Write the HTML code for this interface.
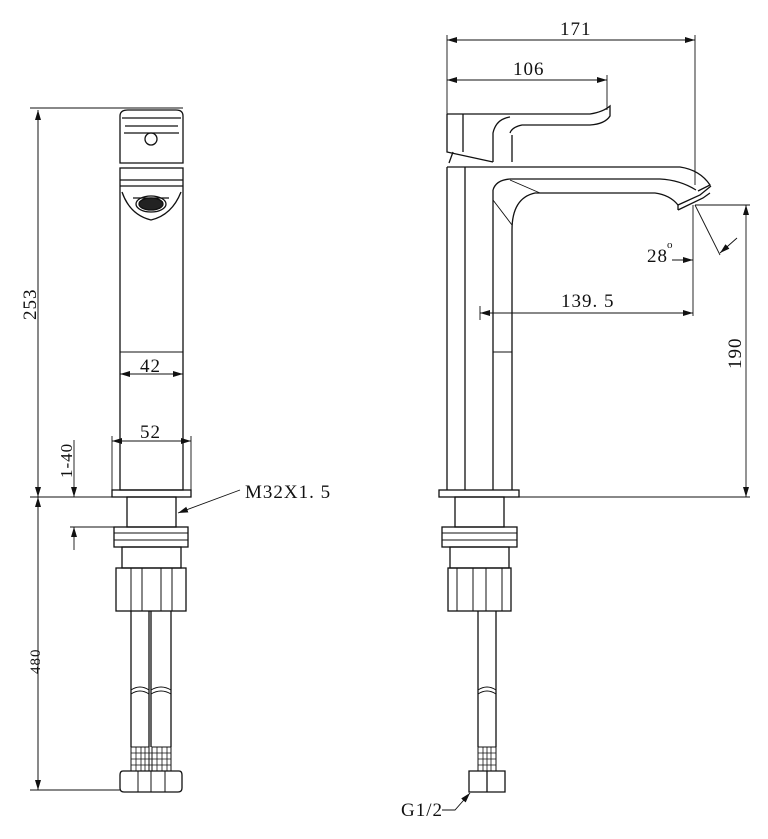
<!DOCTYPE html>
<html><head><meta charset="utf-8"><style>
html,body{margin:0;padding:0;background:#fff;}
svg{display:block;}
text{font-family:"Liberation Serif","DejaVu Serif",serif;fill:#111;letter-spacing:1px;}
</style></head><body>
<svg width="768" height="839" viewBox="0 0 768 839" xmlns="http://www.w3.org/2000/svg">
<defs>
<marker id="a" markerWidth="10" markerHeight="6" refX="10" refY="3" orient="auto" markerUnits="userSpaceOnUse"><path d="M0,0 L10,3 L0,6 z" fill="#111"/></marker>
</defs>
<g fill="none" stroke="#111" stroke-width="1.3">
<!-- LEFT VIEW -->
<path d="M120,163 L120,116 Q120,110 128,110 L176,110 Q183,110 183,116 L183,163 Z"/>
<path d="M122,118 L181,118 M125,126 L178,126 M124,133 L179,133"/>
<circle cx="151" cy="139" r="6"/>
<rect x="120" y="168" width="63" height="322"/>
<path d="M120,180 L183,180 M120,186 L183,186"/>
<path d="M122,192 Q130,215 151,220 Q172,215 181,192"/>
<path d="M133,198 L169,198"/>
<ellipse cx="151" cy="204" rx="15" ry="8"/>
<ellipse cx="151" cy="204" rx="12" ry="6" fill="#222"/>
<path d="M120,352 L183,352" stroke-width="1"/>
<rect x="112" y="490" width="79" height="7"/>
<rect x="127" y="497" width="49" height="30"/>
<rect x="114" y="527" width="74" height="20"/>
<path d="M114,533 L188,533 M114,540 L188,540" stroke-width="1"/>
<rect x="122" y="547" width="59" height="21"/>
<rect x="116" y="568" width="70" height="43"/>
<path d="M131,568 L131,611 M142,568 L142,611 M161,568 L161,611 M172,568 L172,611" stroke-width="1"/>
<path d="M131,611 L131,747 M149,611 L149,747 M151,611 L151,747 M171,611 L171,747"/>
<path d="M131,690 Q140,684 149,690 M151,690 Q161,684 171,690 M131,694 Q140,688 149,694 M151,694 Q161,688 171,694" stroke-width="1"/>
<rect x="131" y="747" width="18" height="24" stroke-width="1"/>
<rect x="152" y="747" width="19" height="24" stroke-width="1"/>
<path d="M131,753 H171 M131,759 H171 M131,765 H171 M136,747 V771 M141,747 V771 M145,747 V771 M157,747 V771 M162,747 V771 M167,747 V771" stroke-width="0.8"/>
<path d="M123,771 L179,771 Q182,771 182,775 L182,788 Q182,792 178,792 L124,792 Q120,792 120,788 L120,775 Q120,771 123,771 Z"/>
<path d="M151,771 L151,792 M138,771 L138,792 M165,771 L165,792" stroke-width="1"/>
<!-- left dims -->
<g stroke-width="0.9">
<path d="M30,108 L183,108 M30,497 L112,497 M30,790 L120,790"/>
<path d="M38,497 L38,110" marker-end="url(#a)"/>
<path d="M38,110 L38,497" marker-end="url(#a)"/>
<path d="M38,497 L38,790" marker-end="url(#a)"/>
<path d="M38,790 L38,497" marker-end="url(#a)"/>
<path d="M151,374 L120,374" marker-end="url(#a)"/>
<path d="M151,374 L183,374" marker-end="url(#a)"/>
<path d="M112,436 L112,490 M191,436 L191,490"/>
<path d="M151,441 L112,441" marker-end="url(#a)"/>
<path d="M151,441 L191,441" marker-end="url(#a)"/>
<path d="M74,440 L74,497" marker-end="url(#a)"/>
<path d="M74,550 L74,527" marker-end="url(#a)"/>
<path d="M70,527 L127,527"/>
<path d="M240,490 L178,513" marker-end="url(#a)"/>
</g>
<!-- RIGHT VIEW -->
<path d="M447,114 L590,114 Q603,112 610,106 L610,116 Q605,124 590,125 L522,125 Q512,127 510,133"/>
<path d="M447,114 L447,152 L493,162"/>
<path d="M463,114 L463,152"/>
<path d="M453,152 L449,163"/>
<path d="M493,162 L493,133 Q496,119 510,117"/>
<path d="M512,162 L512,135"/>
<path d="M447,167 L447,490 M465,167 L465,490 M493,190 L493,490 M512,230 L512,490"/>
<path d="M447,167 L680,167 Q700,170 710,185 L698,191"/>
<path d="M493,190 Q496,180 510,179 L660,179 Q680,180 696,190"/>
<path d="M512,230 Q512,198 535,193 L655,193 Q670,195 678,205"/>
<path d="M493,200 L512,225 M510,180 L540,193" stroke-width="0.9"/>
<path d="M678,205 L700,195 L711,186 M678,210 L703,198 L710,193 M678,205 L678,210"/>
<path d="M493,352 L512,352" stroke-width="1"/>
<rect x="439" y="490" width="80" height="7"/>
<rect x="455" y="497" width="49" height="30"/>
<rect x="442" y="527" width="75" height="20"/>
<path d="M442,533 L517,533 M442,540 L517,540" stroke-width="1"/>
<rect x="450" y="547" width="59" height="21"/>
<rect x="448" y="568" width="63" height="43"/>
<path d="M457,568 V611 M473,568 V611 M486,568 V611 M502,568 V611" stroke-width="1"/>
<path d="M478,611 L478,747 M496,611 L496,747"/>
<path d="M478,690 Q487,684 496,690 M478,694 Q487,688 496,694" stroke-width="1"/>
<rect x="478" y="747" width="18" height="24" stroke-width="1"/>
<path d="M478,753 H496 M478,759 H496 M478,765 H496 M483,747 V771 M487,747 V771 M491,747 V771" stroke-width="0.8"/>
<path d="M471,771 L505,771 L505,792 L469,792 L469,771 Z M487,771 L487,792" />
<!-- right dims -->
<g stroke-width="0.9">
<path d="M447,35 L447,114 M695,35 L695,185 M607,75 L607,110"/>
<path d="M570,40 L447,40" marker-end="url(#a)"/>
<path d="M570,40 L695,40" marker-end="url(#a)"/>
<path d="M527,80 L447,80" marker-end="url(#a)"/>
<path d="M527,80 L607,80" marker-end="url(#a)"/>
<path d="M693,205 L693,316 M480,306 L480,320"/>
<path d="M590,313 L480,313" marker-end="url(#a)"/>
<path d="M590,313 L693,313" marker-end="url(#a)"/>
<path d="M695,205 L750,205 M519,497 L750,497"/>
<path d="M746,350 L746,205" marker-end="url(#a)"/>
<path d="M746,350 L746,497" marker-end="url(#a)"/>
<path d="M695,205 L720,255"/>
<path d="M737,238 L720,253" marker-end="url(#a)"/>
<path d="M672,260 L693,260" marker-end="url(#a)"/>
<path d="M442,810 L455,810 L470,793" marker-end="url(#a)"/>
</g>
</g>
<g font-size="19">
<text x="0" y="0" transform="translate(36,320) rotate(-90)">253</text>
<text x="0" y="0" transform="translate(40,674) rotate(-90)" font-size="15">480</text>
<text x="0" y="0" transform="translate(72,478) rotate(-90)" font-size="17">1-40</text>
<text x="140" y="372">42</text>
<text x="140" y="438">52</text>
<text x="245" y="498">M32X1. 5</text>
<text x="560" y="35">171</text>
<text x="513" y="75">106</text>
<text x="561" y="307">139. 5</text>
<text x="647" y="262">28</text>
<text x="667" y="248" font-size="11">o</text>
<text x="0" y="0" transform="translate(741,369) rotate(-90)">190</text>
<text x="401" y="816">G1/2</text>
</g>
</svg>
</body></html>
